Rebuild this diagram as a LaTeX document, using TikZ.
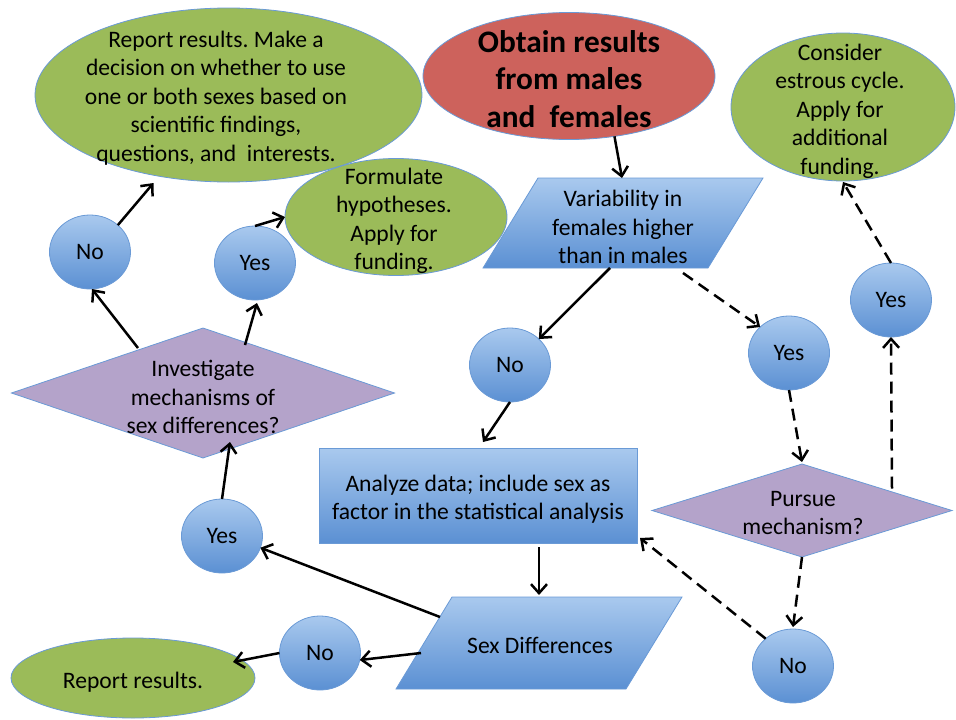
\documentclass[tikz,border=0pt]{standalone}
\usepackage{fontspec}
\setmainfont{Carlito}
\usetikzlibrary{shapes.geometric,arrows.meta,calc}
\definecolor{gfill}{HTML}{9BBB59}
\definecolor{rfill}{HTML}{CD625C}
\definecolor{pfill}{HTML}{B4A3CA}
\definecolor{btop}{HTML}{A9C9EE}
\definecolor{bbot}{HTML}{5B90D3}
\definecolor{edgecol}{HTML}{6A9AD6}
\frenchspacing
\begin{document}
\begin{tikzpicture}[x=1pt,y=-1pt,
  shp/.style={draw=edgecol, line width=0.8pt, inner sep=0pt, outer sep=0pt},
  greenell/.style={shp, ellipse, fill=gfill},
  bluecirc/.style={shp, ellipse, top color=btop, bottom color=bbot, minimum width=81pt, minimum height=74pt, font=\fontsize{23.6}{28.5}\selectfont},
  purpdia/.style={shp, diamond, fill=pfill},
  txt/.style={align=center, font=\fontsize{23.6}{28.5}\selectfont, inner sep=0pt},
  frame/.style={inner sep=0pt, outer sep=0pt, minimum height=#1},
  arr/.style={line width=2.5pt, -{Straight Barb[length=9pt,width=16pt]}},
  darr/.style={arr, dash pattern=on 12pt off 7pt},
]
\useasboundingbox (0,0) rectangle (956,720);

% ellipses
\node[shp, ellipse, fill=rfill, minimum width=292pt, minimum height=127pt] (red) at (569,76) {};
\node[txt, font=\bfseries\fontsize{31.3}{37.5}\selectfont] (redt) at (569,79) {Obtain results\\from males\\and~ females};
\node[greenell, minimum width=387pt, minimum height=174pt] (g1) at (228.5,95) {};
\node[txt] (g1t) at (216,98) {Report results. Make a\\decision on whether to use\\one or both sexes based on\\scientific findings,\\questions, and~ interests.};
\node[greenell, minimum width=224pt, minimum height=148pt] (g2) at (843,107) {};
\node[txt] (g2t) at (840,111) {Consider\\estrous cycle.\\Apply for\\additional\\funding.};
\node[greenell, minimum width=222pt, minimum height=117pt] (g3) at (396,217) {};
\node[txt] (g3t) at (394,221) {Formulate\\hypotheses.\\Apply for\\funding.};
\node[greenell, minimum width=244pt, minimum height=80pt] (g4) at (133,678) {};
\node[txt] (g4t) at (133,682) {Report results.};

% parallelograms
\node[frame=90pt, minimum width=280pt] (p1) at (623,223) {};
\shadedraw[top color=btop, bottom color=bbot, draw=edgecol, line width=0.8pt]
  ($(p1)+(-85,-45)$) -- ($(p1)+(140,-45)$) -- ($(p1)+(85,45)$) -- ($(p1)+(-140,45)$) -- cycle;
\node[txt] (p1t) at (623,227) {Variability in\\females higher\\than in males};
\node[frame=92pt, minimum width=286pt] (p2) at (539,643) {};
\shadedraw[top color=btop, bottom color=bbot, draw=edgecol, line width=0.8pt]
  ($(p2)+(-87,-46)$) -- ($(p2)+(143,-46)$) -- ($(p2)+(87,46)$) -- ($(p2)+(-143,46)$) -- cycle;
\node[txt] (p2t) at (540,645) {Sex Differences};

% rectangle
\node[shp, rectangle, top color=btop, bottom color=bbot, minimum width=318pt, minimum height=95pt] (rect) at (478,495.5) {};
\node[txt] (rectt) at (478,499) {Analyze data; include sex as\\factor in the statistical analysis};

% diamonds
\node[purpdia, minimum width=383pt, minimum height=130pt] (d1) at (203,393) {};
\node[txt] (d1t) at (203,397) {Investigate\\mechanisms of\\sex differences?};
\node[purpdia, minimum width=300pt, minimum height=93pt] (d2) at (802,510.5) {};
\node[txt] (d2t) at (803,513) {Pursue\\mechanism?};

% circles
\node[bluecirc] (noTL) at (90,252) {No};
\node[bluecirc] (yesTL) at (255,263) {Yes};
\node[bluecirc] (noM) at (510,365) {No};
\node[bluecirc] (yesM) at (789,353) {Yes};
\node[bluecirc] (yesR) at (891,300) {Yes};
\node[bluecirc] (yesBL) at (222,536) {Yes};
\node[bluecirc] (noB) at (320,653) {No};
\node[bluecirc] (noBR) at (793,666) {No};

% solid connectors
\draw[arr] (red.-53) -- ([xshift=-1pt]p1.north);
\draw[arr] ([xshift=-13pt]p1.south) -- (noM.42);
\draw[arr] (noM.south) -- ([xshift=5pt,yshift=6pt]rect.north);
\draw[arr] ([xshift=61pt,yshift=-4pt]rect.south) -- ([yshift=2pt]p2.north);
\draw[arr] ($(p2)+(-99,-26)$) -- (yesBL.-17);
\draw[arr] ($(p2)+(-118,10)$) -- (noB.-10);
\draw[arr] (noB.west) -- ($(g4)+(100,-16)$);
\draw[arr] (yesBL.north) -- ($(d1)+(27,49)$);
\draw[arr] ($(d1)+(-65,-45)$) -- ([xshift=2pt]noTL.south);
\draw[arr] ($(d1)+(42,-48)$) -- ([xshift=2pt,yshift=-3pt]yesTL.south);
\draw[arr] (noTL.44) -- ($(g1)+(-75,88)$);
\draw[arr] (yesTL.north) -- (g3.west);

% dashed connectors
\draw[darr] ($(p1)+(60,50)$) -- (yesM.138);
\draw[darr] (yesM.south) -- ([yshift=2pt]d2.north);
\draw[darr] ($(d2)+(90,-22)$) -- (yesR.south);
\draw[darr] (yesR.north) -- ($(g2)+(0,75)$);
\draw[darr] (d2.south) -- ([yshift=2pt]noBR.north);
\draw[darr] (noBR.135) -- ([xshift=3pt,yshift=5pt]rect.south east);
\end{tikzpicture}
\end{document}
